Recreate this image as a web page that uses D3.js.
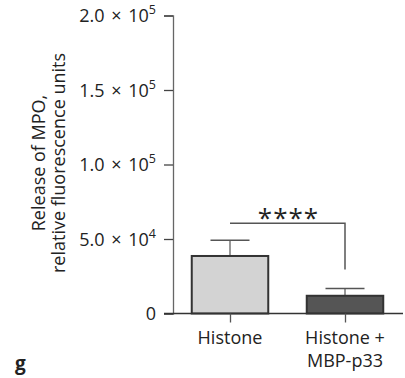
<!DOCTYPE html>
<html><head><meta charset="utf-8">
<script src="https://cdn.jsdelivr.net/npm/d3@7"></script>
<style>body{margin:0;background:#fff}svg{display:block}text{font-family:"Open Sans","Noto Sans",sans-serif;fill:#222}</style>
</head><body><svg id="c" width="405" height="378"></svg>
<script>
const categories = ["Histone", "Histone + MBP-p33"];
const catLines = [["Histone"], ["Histone +", "MBP-p33"]];
const means = [38600, 11900];
const errs = [10500, 4800];
const fills = ["#d3d3d3", "#555555"];
const yTicks = [0, 50000, 100000, 150000, 200000];
const yTickLabels = [["0", ""], ["5.0 × 10", "4"], ["1.0 × 10", "5"], ["1.5 × 10", "5"], ["2.0 × 10", "5"]];
const sigLabel = "****";

const svg = d3.select("#c");
const y = d3.scaleLinear().domain([0, 200000]).range([313.5, 15.5]);
const x = d3.scalePoint().domain(categories).range([230, 345]);
const barW = 76.5;

// y axis
const yAxis = svg.append("g").attr("transform", "translate(173,0)")
  .call(d3.axisLeft(y).tickValues(yTicks).tickSize(9).tickFormat(""));
yAxis.select(".domain").attr("stroke", "#666").attr("stroke-width", 1.3);
yAxis.selectAll(".tick line").attr("stroke", "#444").attr("stroke-width", 1.3);
yTicks.forEach((t, i) => {
  const tx = svg.append("text").attr("x", 156).attr("y", y(t) + 6.5).attr("text-anchor", "end").attr("font-size", 18).attr("word-spacing", 2);
  tx.append("tspan").text(yTickLabels[i][0]);
  if (yTickLabels[i][1]) tx.append("tspan").attr("dy", -8).attr("font-size", 12.5).text(yTickLabels[i][1]);
});

// bars
categories.forEach((c, i) => {
  const cx = x(c);
  svg.append("line").attr("x1", cx).attr("x2", cx).attr("y1", y(means[i])).attr("y2", y(means[i] + errs[i]))
    .attr("stroke", "#777").attr("stroke-width", 1.5);
  svg.append("line").attr("x1", cx - 19.5).attr("x2", cx + 19.5).attr("y1", y(means[i] + errs[i])).attr("y2", y(means[i] + errs[i]))
    .attr("stroke", "#555").attr("stroke-width", 1.5);
  svg.append("rect").attr("x", cx - barW / 2).attr("y", y(means[i])).attr("width", barW).attr("height", y(0) - y(means[i]))
    .attr("fill", fills[i]).attr("stroke", "#333").attr("stroke-width", 2);
});

// x axis
const xAxis = svg.append("g").attr("transform", "translate(0,313.5)")
  .call(d3.axisBottom(x).tickSize(9).tickFormat("").tickSizeOuter(0));
xAxis.select(".domain").attr("d", "M164,0H403").attr("stroke", "#333").attr("stroke-width", 1.3);
xAxis.selectAll(".tick line").attr("stroke", "#555").attr("stroke-width", 1.3);
categories.forEach((c, i) => {
  catLines[i].forEach((l, j) => {
    svg.append("text").attr("x", x(c)).attr("y", 344 + j * 23).attr("text-anchor", "middle").attr("font-size", 18).text(l);
  });
});

// significance bracket
const bY = 223.3;
svg.append("path").attr("d", `M${x(categories[0])},${bY}H${x(categories[1])}V269.5`)
  .attr("fill", "none").attr("stroke", "#555").attr("stroke-width", 1.5);
svg.append("text").attr("x", (x(categories[0]) + x(categories[1])) / 2 + 1).attr("y", 227).attr("text-anchor", "middle")
  .attr("font-family", "DejaVu Sans").attr("font-size", 26).attr("letter-spacing", 1).attr("fill", "#333").text(sigLabel);

// y label
const yl = svg.append("text").attr("transform", "translate(45,163) rotate(-90)").attr("text-anchor", "middle").attr("font-size", 18);
yl.append("tspan").attr("x", 0).attr("dy", 0).text("Release of MPO,");
yl.append("tspan").attr("x", 0).attr("dy", 20).text("relative fluorescence units");

// panel letter
svg.append("text").attr("x", 15).attr("y", 370).attr("font-size", 19).attr("font-weight", "bold").text("g");
</script></body></html>
